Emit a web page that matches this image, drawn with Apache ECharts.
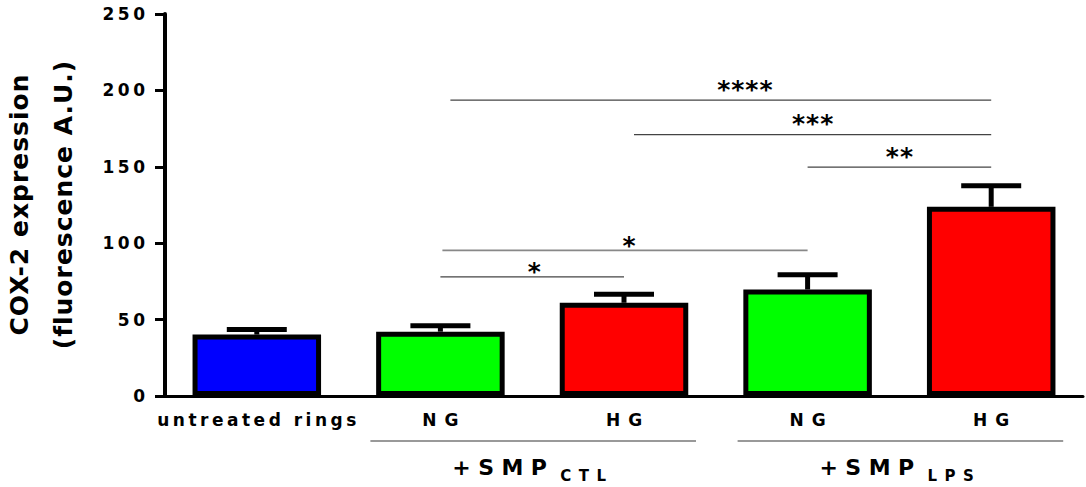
<!DOCTYPE html>
<html><head><meta charset="utf-8">
<script src="https://cdn.jsdelivr.net/npm/echarts@6/dist/echarts.min.js"></script>
<style>html,body{margin:0;padding:0;background:#fff}#c{width:1086px;height:487px}</style>
</head><body><div id="c"></div>
<script>
// ---- data ----
const categories = ['untreated rings', 'NG', 'HG', 'NG', 'HG'];
const means = [40.2, 42.1, 61.0, 69.7, 123.8];
const upperErr = [43.5, 45.9, 66.6, 79.3, 137.6];
const barColors = ['#0000ff', '#00ff00', '#ff0000', '#00ff00', '#ff0000'];
const yMin = 0, yMax = 250, yStep = 50;
const sigStart = [1, 2, 3, 1, 1];
const sigEnd = [4, 4, 4, 3, 2];
const sigY = [193.7, 171.0, 149.8, 95.3, 78.0];
const sigLabels = ['****', '***', '**', '*', '*'];
const groupMain = ['+SMP', '+SMP'];
const groupSub = ['CTL', 'LPS'];
const groupFirst = [1, 3];
const groupLast = [2, 4];
const yTitle = 'COX-2 expression\n(fluorescence A.U.)';

// ---- styles ----
const FONT = '"DejaVu Sans", "Liberation Sans", Arial, sans-serif';
const sigInsetLeft = [10, 10, 0, 2, 0];
const sigLabelDx = [24, 0, 0, 4, 2];

const chart = echarts.init(document.getElementById('c'), null, {renderer: 'svg'});

const option = {
  animation: false,
  backgroundColor: '#fff',
  grid: {left: 165, right: 3, top: 14, bottom: 91, containLabel: false, outerBoundsMode: 'none'},
  xAxis: {
    type: 'category',
    data: categories,
    axisLine: {lineStyle: {color: '#000', width: 3}},
    axisTick: {alignWithLabel: true, length: 8, lineStyle: {color: '#000', width: 3}},
    axisLabel: {interval: 0, margin: 15, color: '#000', fontWeight: 'bold', fontSize: 17, fontFamily: FONT}
  },
  yAxis: {
    type: 'value', min: yMin, max: yMax, interval: yStep,
    name: yTitle, nameLocation: 'middle', nameRotate: 90, nameGap: 80,
    nameTextStyle: {color: '#000', fontWeight: 'bold', fontSize: 25, fontFamily: FONT, lineHeight: 44},
    splitLine: {show: false},
    axisLine: {show: true, lineStyle: {color: '#000', width: 4}},
    axisTick: {show: true, length: 10, lineStyle: {color: '#000', width: 3}},
    axisLabel: {margin: 20, color: '#000', fontWeight: 'bold', fontSize: 17, fontFamily: FONT}
  },
  series: [
    {
      type: 'bar',
      barWidth: '70%',
      data: means.map((v, i) => ({value: v, itemStyle: {color: barColors[i]}})),
      itemStyle: {borderColor: '#000', borderWidth: 5}
    },
    {
      type: 'custom',
      z: 3,
      data: means.map((m, i) => [i, m, upperErr[i]]),
      encode: {x: 0, y: [1, 2]},
      renderItem: function (params, api) {
        const x = api.value(0);
        const p0 = api.coord([x, api.value(1)]);
        const p1 = api.coord([x, api.value(2)]);
        return {
          type: 'group',
          children: [
            {type: 'line', shape: {x1: p0[0], y1: p0[1], x2: p1[0], y2: p1[1]}, style: {stroke: '#000', lineWidth: 5}},
            {type: 'line', shape: {x1: p1[0] - 30, y1: p1[1], x2: p1[0] + 30, y2: p1[1]}, style: {stroke: '#000', lineWidth: 5}}
          ]
        };
      }
    },
    {
      type: 'custom',
      z: 4,
      data: sigStart.map((s, i) => [s, sigEnd[i], sigY[i]]),
      encode: {x: [0, 1], y: 2},
      renderItem: function (params, api) {
        const i = params.dataIndex;
        const a = api.coord([api.value(0), api.value(2)]);
        const b = api.coord([api.value(1), api.value(2)]);
        const single = sigLabels[i].length === 1;
        const mid = (a[0] + sigInsetLeft[i] + b[0]) / 2 + sigLabelDx[i];
        return {
          type: 'group',
          children: [
            {type: 'line', shape: {x1: a[0] + sigInsetLeft[i], y1: a[1], x2: b[0], y2: b[1]},
             style: {stroke: i === 3 ? '#888' : '#444', lineWidth: i === 3 ? 1.8 : 1.2}},
            {type: 'text', x: mid, y: a[1] - (single ? 5 : 11),
             style: {text: sigLabels[i], fill: '#000', font: 'bold 25px ' + FONT, align: 'center', verticalAlign: 'middle'}}
          ]
        };
      }
    }
  ]
};
chart.setOption(option);

function buildGroups() {
  const y0 = chart.convertToPixel({yAxisIndex: 0}, 0);
  const els = [];
  for (let g = 0; g < groupMain.length; g++) {
    const xa = chart.convertToPixel({xAxisIndex: 0}, groupFirst[g]);
    const xb = chart.convertToPixel({xAxisIndex: 0}, groupLast[g]);
    const mid = (xa + xb) / 2;
    els.push({type: 'line', shape: {x1: xa - 70, y1: y0 + 45, x2: xb + 72, y2: y0 + 45},
      style: {stroke: '#777', lineWidth: 1.5}});
    els.push({type: 'text', x: mid - 80, y: y0 + 71,
      style: {text: groupMain[g], fill: '#000', font: 'bold 22px ' + FONT, align: 'left', verticalAlign: 'middle'}});
    els.push({type: 'text', x: mid + 28, y: y0 + 80,
      style: {text: groupSub[g], fill: '#000', font: 'bold 15px ' + FONT, align: 'left', verticalAlign: 'middle'}});
  }
  chart.setOption({graphic: {elements: els}});
}
buildGroups();

function spacingFor(s) {
  if (/^\d+$/.test(s)) return 3.5;
  if (s === 'untreated rings') return 3.5;
  if (s === 'NG' || s === 'HG') return 8;
  if (/^\*+$/.test(s)) return 1;
  if (s === '+SMP') return 7.5;
  if (s === 'CTL' || s === 'LPS') return 7.5;
  return 1;
}
function applySpacing() {
  const texts = document.querySelectorAll('#c text');
  texts.forEach(t => {
    const ls = spacingFor(t.textContent);
    t.style.letterSpacing = ls + 'px';
    const anchor = t.getAttribute('text-anchor');
    if (anchor === 'middle') t.setAttribute('dx', ls / 2);
    else if (anchor === 'end') t.setAttribute('dx', ls);
  });
}
chart.getZr().flush();
applySpacing();
chart.on('finished', applySpacing);
setTimeout(applySpacing, 50);
</script>
</body></html>
